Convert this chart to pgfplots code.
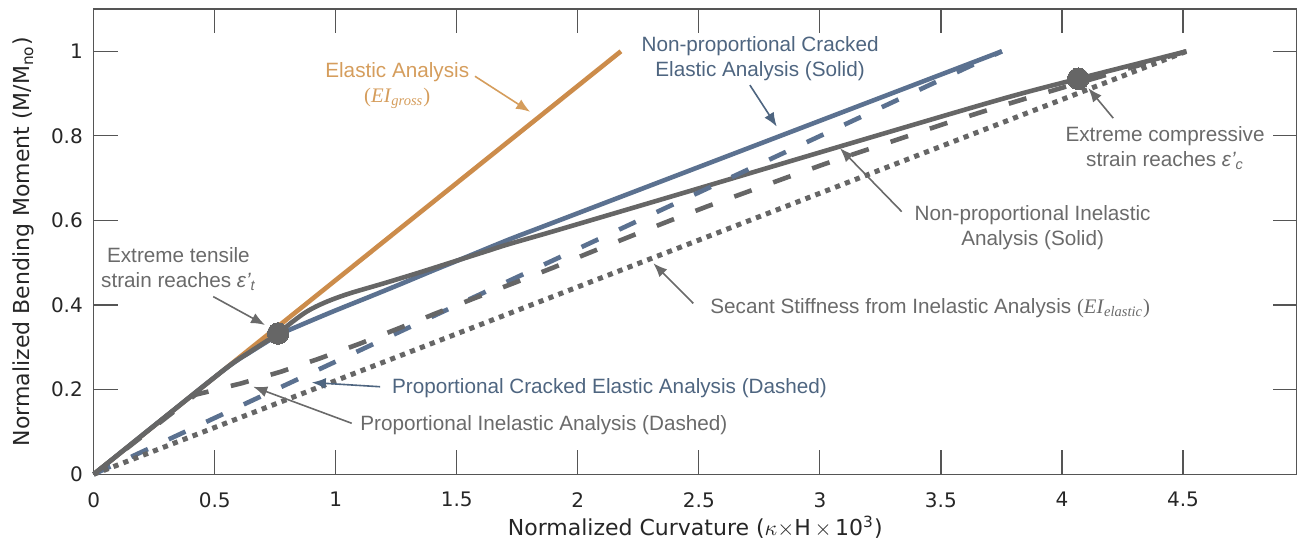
\documentclass[border=0pt]{standalone}
\usepackage{fontspec}
\setmainfont{Liberation Sans}
\newfontfamily\dejavu{DejaVu Sans}
\newfontfamily\serif{Liberation Serif}
\usepackage{pgfplots}
\pgfplotsset{compat=1.18}
\usetikzlibrary{arrows.meta}

\definecolor{elastic}{HTML}{CC8C4B}
\definecolor{elastictext}{HTML}{D59D5C}
\definecolor{cracked}{HTML}{5B7190}
\definecolor{crackedtext}{HTML}{4E6580}
\definecolor{inel}{HTML}{666666}
\definecolor{ineltext}{HTML}{6A6A6A}
\definecolor{axisgray}{HTML}{555555}

\newcommand\annfont{\fontsize{10.35}{12.5}\selectfont}
\newcommand\tickfont{\dejavu\fontsize{10}{12}\selectfont}
\newcommand\lblfont{\dejavu\fontsize{11}{13}\selectfont}
\newcommand\EI[1]{{\serif(\textit{EI}\textsubscript{\textit{#1}})}}

\begin{document}
\begin{tikzpicture}
\begin{axis}[
  at={(0,0)}, anchor=south west,
  scale only axis, width=601.5pt, height=232.65pt,
  xmin=0, xmax=4.97, ymin=0, ymax=1.1,
  xtick={0,0.5,...,4.5}, ytick={0,0.2,...,1},
  tick align=inside, major tick length=12pt,
  xtick pos=both, ytick pos=both,
  xticklabel pos=lower, yticklabel pos=left,
  axis line style={axisgray, line width=0.6pt},
  every tick/.style={axisgray, line width=0.6pt},
  tick label style={font=\tickfont, text=black!85},
  /pgf/number format/assume math mode=true,
  xticklabel style={yshift=-5.4pt},
  yticklabel style={xshift=-1.9pt},
  xlabel={Normalized Curvature ($\kappa{\times}$H$\,{\times}\,$10\textsuperscript{3})},
  ylabel={Normalized Bending Moment (M/M\textsubscript{no})},
  xlabel style={at={([yshift=-26.5pt]axis description cs:0.5,0)}, anchor=center, font=\lblfont, text=black!85},
  ylabel style={at={([xshift=-35pt]axis description cs:0,0.5)}, anchor=center, font=\lblfont, text=black!85},
  clip=false,
]
% elastic (gross section) response
\addplot[elastic, line width=2.3pt] coordinates {(0,0) (2.178,1.0)};
% non-proportional cracked elastic analysis
\addplot[cracked, line width=2.3pt, smooth, tension=0.5] coordinates {
  (0,0) (0.3,0.138) (0.55,0.252) (0.65,0.290) (0.762,0.329) (0.852,0.352)
  (0.989,0.385) (1.128,0.417) (1.265,0.449) (1.403,0.482) (1.541,0.514)
  (1.72,0.556) (1.926,0.601) (2.8,0.792) (3.752,1.0)};
% non-proportional inelastic analysis
\addplot[inel, line width=2.3pt, smooth, tension=0.5] coordinates {
  (0,0) (0.3,0.138) (0.55,0.252) (0.65,0.291) (0.762,0.333) (0.811,0.356)
  (0.87,0.381) (0.92,0.397) (0.98,0.412) (1.059,0.428) (1.196,0.451) (1.334,0.475)
  (1.472,0.500) (1.61,0.525) (1.72,0.545) (1.926,0.579) (2.5,0.676) (3.083,0.775)
  (3.744,0.886) (4.067,0.935) (4.515,1.0)};
% proportional cracked elastic analysis
\addplot[cracked, line width=2.3pt, dash pattern=on 9.2pt off 11.5pt] coordinates {(0,0) (3.752,1.0)};
% proportional inelastic analysis
\addplot[inel, line width=2.3pt, dash pattern=on 9.2pt off 11.5pt] coordinates {
  (0,0) (0.42,0.188) (0.61,0.215) (0.776,0.243) (0.934,0.274) (1.1,0.309)
  (1.264,0.346) (1.416,0.381) (1.581,0.418) (1.74,0.453) (1.9,0.489) (2.036,0.521)
  (2.215,0.562) (2.373,0.598) (2.533,0.633) (2.697,0.667) (2.86,0.701) (3.017,0.733)
  (3.182,0.765) (3.34,0.795) (3.506,0.827) (3.671,0.857) (3.837,0.886) (3.996,0.913)
  (4.2,0.947) (4.515,1.0)};
% secant stiffness
\addplot[inel, line width=2.5pt, dash pattern=on 2.6pt off 2.7pt] coordinates {(0,0) (4.515,1.0)};
% strain limit states
\addplot[inel, only marks, mark=*, mark size=5.4pt, mark options={draw=inel, fill=inel, line width=0pt}]
  coordinates {(0.762,0.333) (4.067,0.935)};

% annotations
\tikzset{ann/.style={line width=0.8pt, -{Latex[length=7pt,width=5.5pt]}}}
\node[elastictext, font=\annfont, align=center] at (axis cs:1.254,0.919)
  {Elastic Analysis\\\EI{gross}};
\draw[ann, elastictext] (axis cs:1.575,0.941) -- (axis cs:1.803,0.857);

\node[crackedtext, font=\annfont, align=center] at (axis cs:2.753,0.983)
  {Non-proportional Cracked\\Elastic Analysis (Solid)};
\draw[ann, crackedtext] (axis cs:2.711,0.920) -- (axis cs:2.822,0.822);

\node[ineltext, font=\annfont, align=center] at (axis cs:4.426,0.772)
  {Extreme compressive\\strain reaches {\itshape ε'}\textsubscript{\itshape c}};
\draw[ann, ineltext] (axis cs:4.212,0.842) -- (axis cs:4.109,0.913);

\node[ineltext, font=\annfont, align=center] at (axis cs:3.879,0.582)
  {Non-proportional Inelastic\\Analysis (Solid)};
\draw[ann, ineltext] (axis cs:3.338,0.621) -- (axis cs:3.083,0.771);

\node[ineltext, font=\annfont, anchor=west, inner sep=0pt] at (axis cs:2.546,0.392)
  {Secant Stiffness from Inelastic Analysis \EI{elastic}};
\draw[ann, ineltext] (axis cs:2.477,0.404) -- (axis cs:2.312,0.499);

\node[crackedtext, font=\annfont, anchor=west, inner sep=0pt] at (axis cs:1.231,0.203)
  {Proportional Cracked Elastic Analysis (Dashed)};
\draw[ann, crackedtext] (axis cs:1.183,0.207) -- (axis cs:0.901,0.217);

\node[ineltext, font=\annfont, anchor=west, inner sep=0pt] at (axis cs:1.100,0.1165)
  {Proportional Inelastic Analysis (Dashed)};
\draw[ann, ineltext] (axis cs:1.066,0.1206) -- (axis cs:0.659,0.207);

\node[ineltext, font=\annfont, align=center] at (axis cs:0.350,0.485)
  {Extreme tensile\\strain reaches {\itshape ε'}\textsubscript{\itshape t}};
\draw[ann, ineltext] (axis cs:0.494,0.420) -- (axis cs:0.708,0.353);
\end{axis}
\pgfresetboundingbox
\path[use as bounding box] (-46.85pt,-35.35pt) rectangle (602.65pt,237.15pt);
\end{tikzpicture}
\end{document}
